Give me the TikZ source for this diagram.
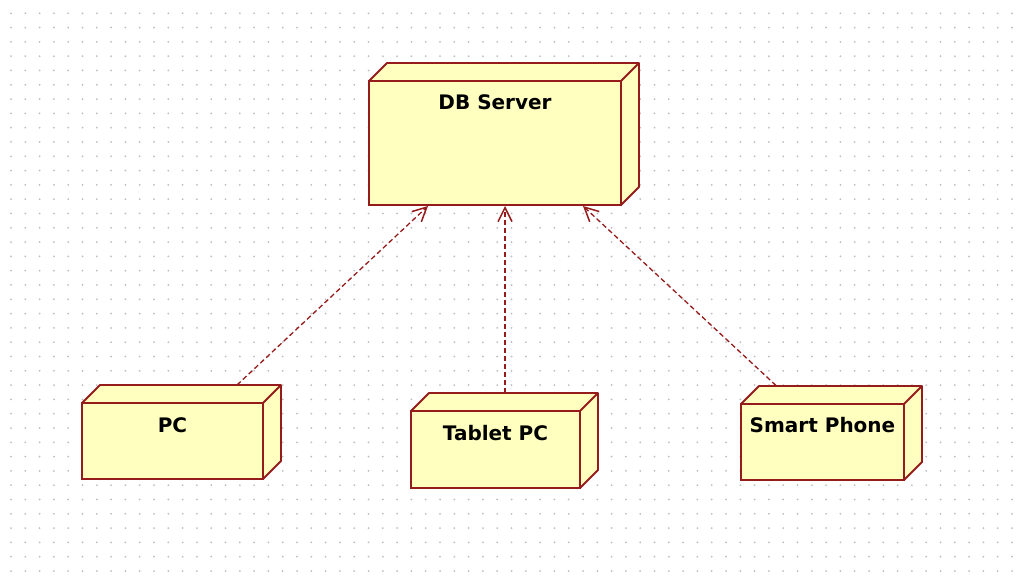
\documentclass[tikz,border=0pt]{standalone}
\usepackage{fontspec}
\setmainfont{DejaVu Sans}
\usepackage{tikz}
\usetikzlibrary{calc, arrows.meta, positioning}
\tikzset{>=latex}
\definecolor{myred}{RGB}{150, 28, 28}
\definecolor{myyellow}{RGB}{255, 255, 192}
\definecolor{mygray}{RGB}{190, 190, 190}
\tikzset{
  devicebox/.style = {draw = myred, fill = myyellow, line width = 1.9pt, inner sep = 0pt, outer sep = 0pt},
  devicename/.style = {anchor = base, inner sep = 0pt, font = \fontsize{20}{24}\selectfont\bfseries},
  devicedepth/.style = {draw = myred, fill = myyellow, line width = 1.9pt, line join = round},
  dependency/.style = {draw = myred, line width = 1.3pt, dash pattern = on 5pt off 3pt,
    -{Straight Barb[length = 14pt, width = 14pt, line width = 1.5pt]}}
}
\newcommand{\depth}[1]{\draw[devicedepth] (#1.north west) -- ++(18,-18) -- ($(#1.north east)+(18,-18)$) -- ($(#1.south east)+(18,-18)$) -- (#1.south east) -- (#1.north east) -- cycle;
\draw[devicedepth] (#1.north east) -- ++(18,-18);}

\begin{document}
\begin{tikzpicture}[x = 1pt, y = -1pt]

\useasboundingbox (0,0) rectangle (1018,585);
\fill[white] (0,0) rectangle (1018,585);

% dotted grid
\foreach \i in {0,...,70}
  \foreach \j in {0,...,39}
    \fill[mygray] (11+14.3*\i, 13.3+14.3*\j) circle (1);

\begin{scope}
\node[devicebox, minimum width = 252pt, minimum height = 124pt] (server) at (495, 143) {};
\depth{server}
\node[devicename] (serverlabel) at ($(server.north)+(0,29)$) {DB Server};
\end{scope}

\begin{scope}
\node[devicebox, minimum width = 181pt, minimum height = 76pt] (pc) at (172.5, 441) {};
\depth{pc}
\node[devicename] (pclabel) at ($(pc.north)+(0,29)$) {PC};

\node[devicebox, minimum width = 169pt, minimum height = 77pt] (tablet) at (495.5, 449.5) {};
\depth{tablet}
\node[devicename] (tabletlabel) at ($(tablet.north)+(0,29)$) {Tablet PC};

\node[devicebox, minimum width = 163pt, minimum height = 76pt] (phone) at (822.5, 442) {};
\depth{phone}
\node[devicename] (phonelabel) at ($(phone.north)+(0,28)$) {Smart Phone};
\end{scope}

\draw[dependency] ($(pc.north)+(64.5,-18)$) -- ($(server.south)+(-67,1)$);
\draw[dependency] ($(tablet.north)+(9.5,-18)$) -- ($(server.south)+(10,1)$);
\draw[dependency] ($(phone.north)+(-46.5,-18.5)$) -- ($(server.south)+(88,1)$);

\end{tikzpicture}
\end{document}
